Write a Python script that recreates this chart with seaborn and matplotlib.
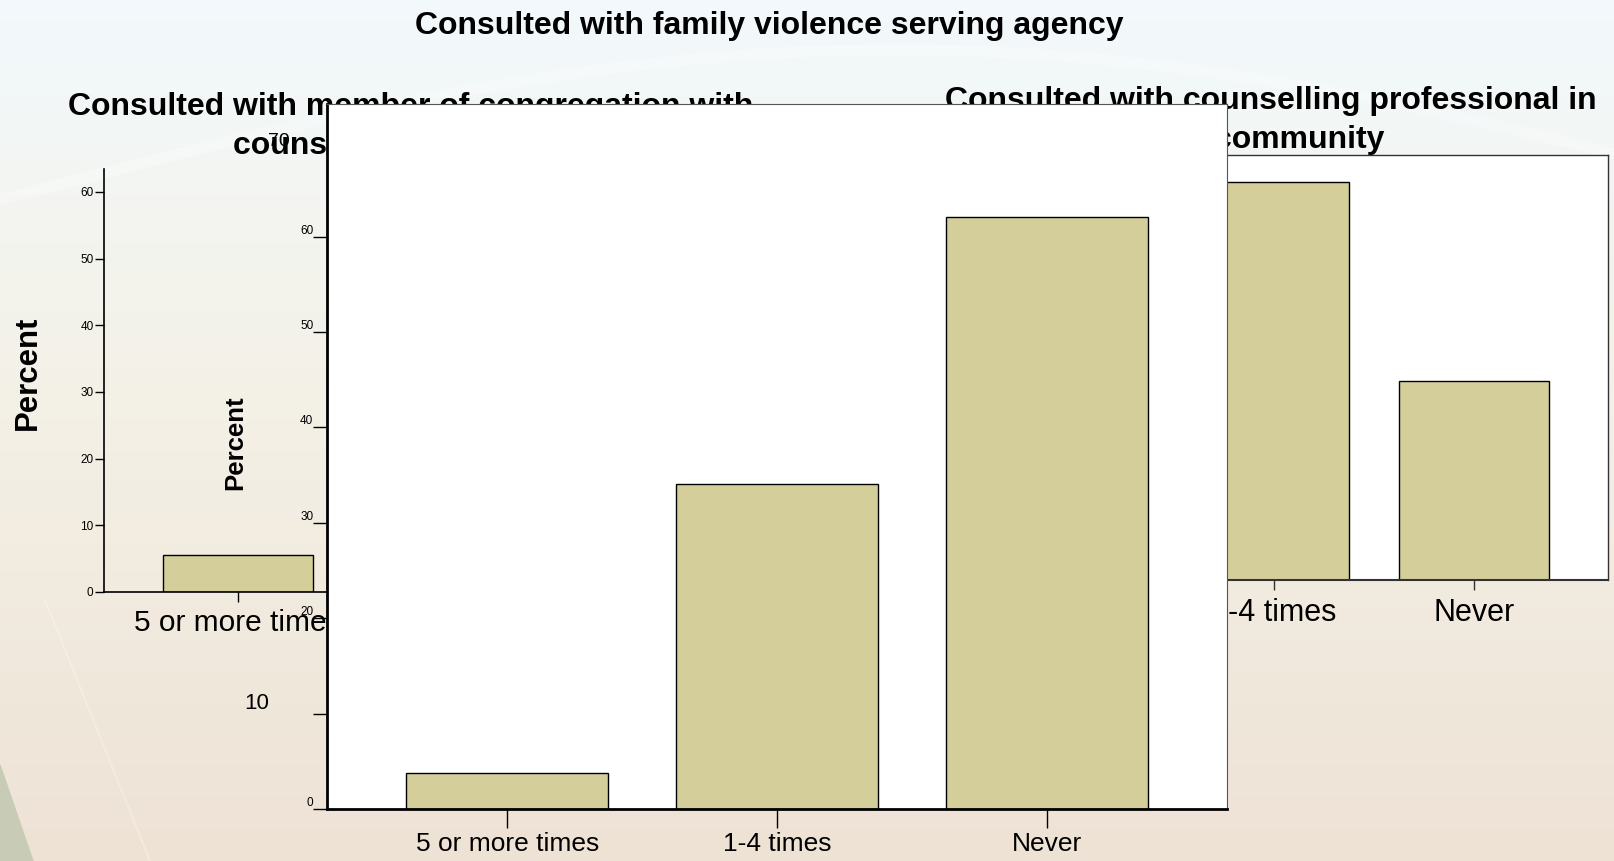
import numpy as np
import pandas as pd
import matplotlib
matplotlib.use("Agg")
import matplotlib.pyplot as plt
import seaborn as sns
from matplotlib.colors import to_rgb
from matplotlib.transforms import blended_transform_factory

# values (percent)
categories = ["5 or more times", "1-4 times", "Never"]
congregation_pct = [5.6, 35.6, 58.8]
agency_pct = [3.8, 34.1, 62.1]
professional_pct = [7.3, 61.8, 30.9]

congregation_ticks = [0, 10, 20, 30, 40, 50, 60]
agency_ticks = [0, 10, 20, 30, 40, 50, 60]
professional_ticks = [0, 10, 20, 30, 40, 50, 60]

BAR = "#d4cf9a"
W, H = 1614, 861

sns.set_style("ticks")
plt.rcParams["font.family"] = ["Liberation Sans", "DejaVu Sans"]
plt.rcParams["text.color"] = "black"
plt.rcParams["xtick.color"] = "black"
plt.rcParams["ytick.color"] = "black"
plt.rcParams["xtick.labelcolor"] = "black"
plt.rcParams["ytick.labelcolor"] = "black"


def box(l, t, r, b):
    return [l / W, 1 - b / H, (r - l) / W, (b - t) / H]


def bars(ax, values):
    df = pd.DataFrame({"Category": categories, "Percent": values})
    sns.barplot(data=df, x="Category", y="Percent", ax=ax, color=BAR,
                saturation=1, edgecolor="black", linewidth=1, width=0.75)
    ax.set_xlim(-0.667, 2.667)
    ax.set_xlabel("")
    ax.set_ylabel("")


fig = plt.figure(figsize=(W / 100, H / 100), dpi=100)

# slide background
bg = fig.add_axes([0, 0, 1, 1], zorder=0)
yy = np.linspace(0, 1, 300)[:, None]
top, mid, bot = [np.array(to_rgb(c)) for c in ("#f2f9fc", "#f4f1e7", "#eee2d5")]
grad = np.where(yy[..., None] < 0.45,
                top + (mid - top) * (yy[..., None] / 0.45),
                mid + (bot - mid) * ((yy[..., None] - 0.45) / 0.55))
grad = np.repeat(grad, 2, axis=1)
bg.imshow(grad, extent=(0, W, H, 0), aspect="auto")
t = np.linspace(0, 1, 200)
bg.plot(t * W, 200 - 150 * np.sin(np.pi * t * 0.9), color="white", lw=8, alpha=0.3)
bg.fill([0, 33, 0], [765, 861, 861], color="#c8ccb6")
bg.plot([45, 150], [600, 861], color="white", lw=1.5, alpha=0.25)
bg.set_xlim(0, W)
bg.set_ylim(H, 0)
bg.axis("off")

# left chart (behind)
ax_l = fig.add_axes(box(104, 169.3, 774, 592), zorder=1)
bars(ax_l, congregation_pct)
ax_l.set_facecolor("none")
ax_l.set_ylim(0, 63.4)
ax_l.set_yticks(congregation_ticks)
sns.despine(ax=ax_l)
for s in ("left", "bottom"):
    ax_l.spines[s].set_color("black")
    ax_l.spines[s].set_linewidth(1.2)
ax_l.tick_params(axis="y", labelsize=8.5, length=6.5, width=1, pad=1)
ax_l.tick_params(axis="x", labelsize=21.5, length=7.5, width=1, pad=5)
ax_l.text((28 - 104) / 670, 0.518, "Percent", transform=ax_l.transAxes, rotation=90,
          ha="center", va="center", fontsize=22.4, fontweight="bold")
ax_l.text(411 / W, 1 - 107 / H, "Consulted with member of congregation with",
          transform=fig.transFigure, ha="center", va="center", fontsize=23, fontweight="bold")
ax_l.text(411 / W, 1 - 146 / H, "counselling credentials",
          transform=fig.transFigure, ha="center", va="center", fontsize=23, fontweight="bold")

# right chart (behind)
ax_r = fig.add_axes(box(939, 155.4, 1608, 579.5), zorder=1)
bars(ax_r, professional_pct)
ax_r.set_facecolor("white")
ax_r.set_ylim(0, 66)
ax_r.set_yticks(professional_ticks)
for s in ax_r.spines.values():
    s.set_color("#333333")
    s.set_linewidth(1)
ax_r.spines["bottom"].set_linewidth(1.5)
ax_r.tick_params(axis="y", labelsize=8.5, length=6.5, width=1, pad=1)
ax_r.tick_params(axis="x", labelsize=22, length=7.5, width=1, pad=6, color="#333333")
ax_r.text(1271 / W, 1 - 101 / H, "Consulted with counselling professional in",
          transform=fig.transFigure, ha="center", va="center", fontsize=23, fontweight="bold")
ax_r.text(1271 / W, 1 - 140 / H, "the community",
          transform=fig.transFigure, ha="center", va="center", fontsize=23, fontweight="bold")

# middle chart (front)
ax_m = fig.add_axes(box(327.3, 104, 1227, 809), zorder=3)
bars(ax_m, agency_pct)
ax_m.set_facecolor("white")
ax_m.set_ylim(0, 73.9)
ax_m.set_yticks(agency_ticks)
ax_m.set_yticklabels([str(v) if v != 10 else "" for v in agency_ticks])
for lab in ax_m.get_yticklabels():
    lab.set_va("bottom")
for s in ("left", "bottom"):
    ax_m.spines[s].set_color("black")
    ax_m.spines[s].set_linewidth(2)
for s in ("top", "right"):
    ax_m.spines[s].set_color("#555555")
    ax_m.spines[s].set_linewidth(0.8)
ax_m.tick_params(axis="y", labelsize=8.5, length=10, width=1, pad=0)
ax_m.tick_params(axis="x", labelsize=19, length=13.7, width=1, pad=3)
tr = blended_transform_factory(ax_m.transAxes, ax_m.transData)
ax_m.text(-0.079, 11.1, "10", transform=tr, ha="center", va="center", fontsize=16)
ax_m.text(-0.054, 70, "70", transform=tr, ha="center", va="center", fontsize=14)
ax_m.text((235 - 327.3) / 899.7, 0.519, "Percent", transform=ax_m.transAxes, rotation=90,
          ha="center", va="center", fontsize=18.5, fontweight="bold")

fig.text(769 / W, 1 - 26 / H, "Consulted with family violence serving agency",
         ha="center", va="center", fontsize=23, fontweight="bold", zorder=10)

fig.savefig("out.png", dpi=100)
